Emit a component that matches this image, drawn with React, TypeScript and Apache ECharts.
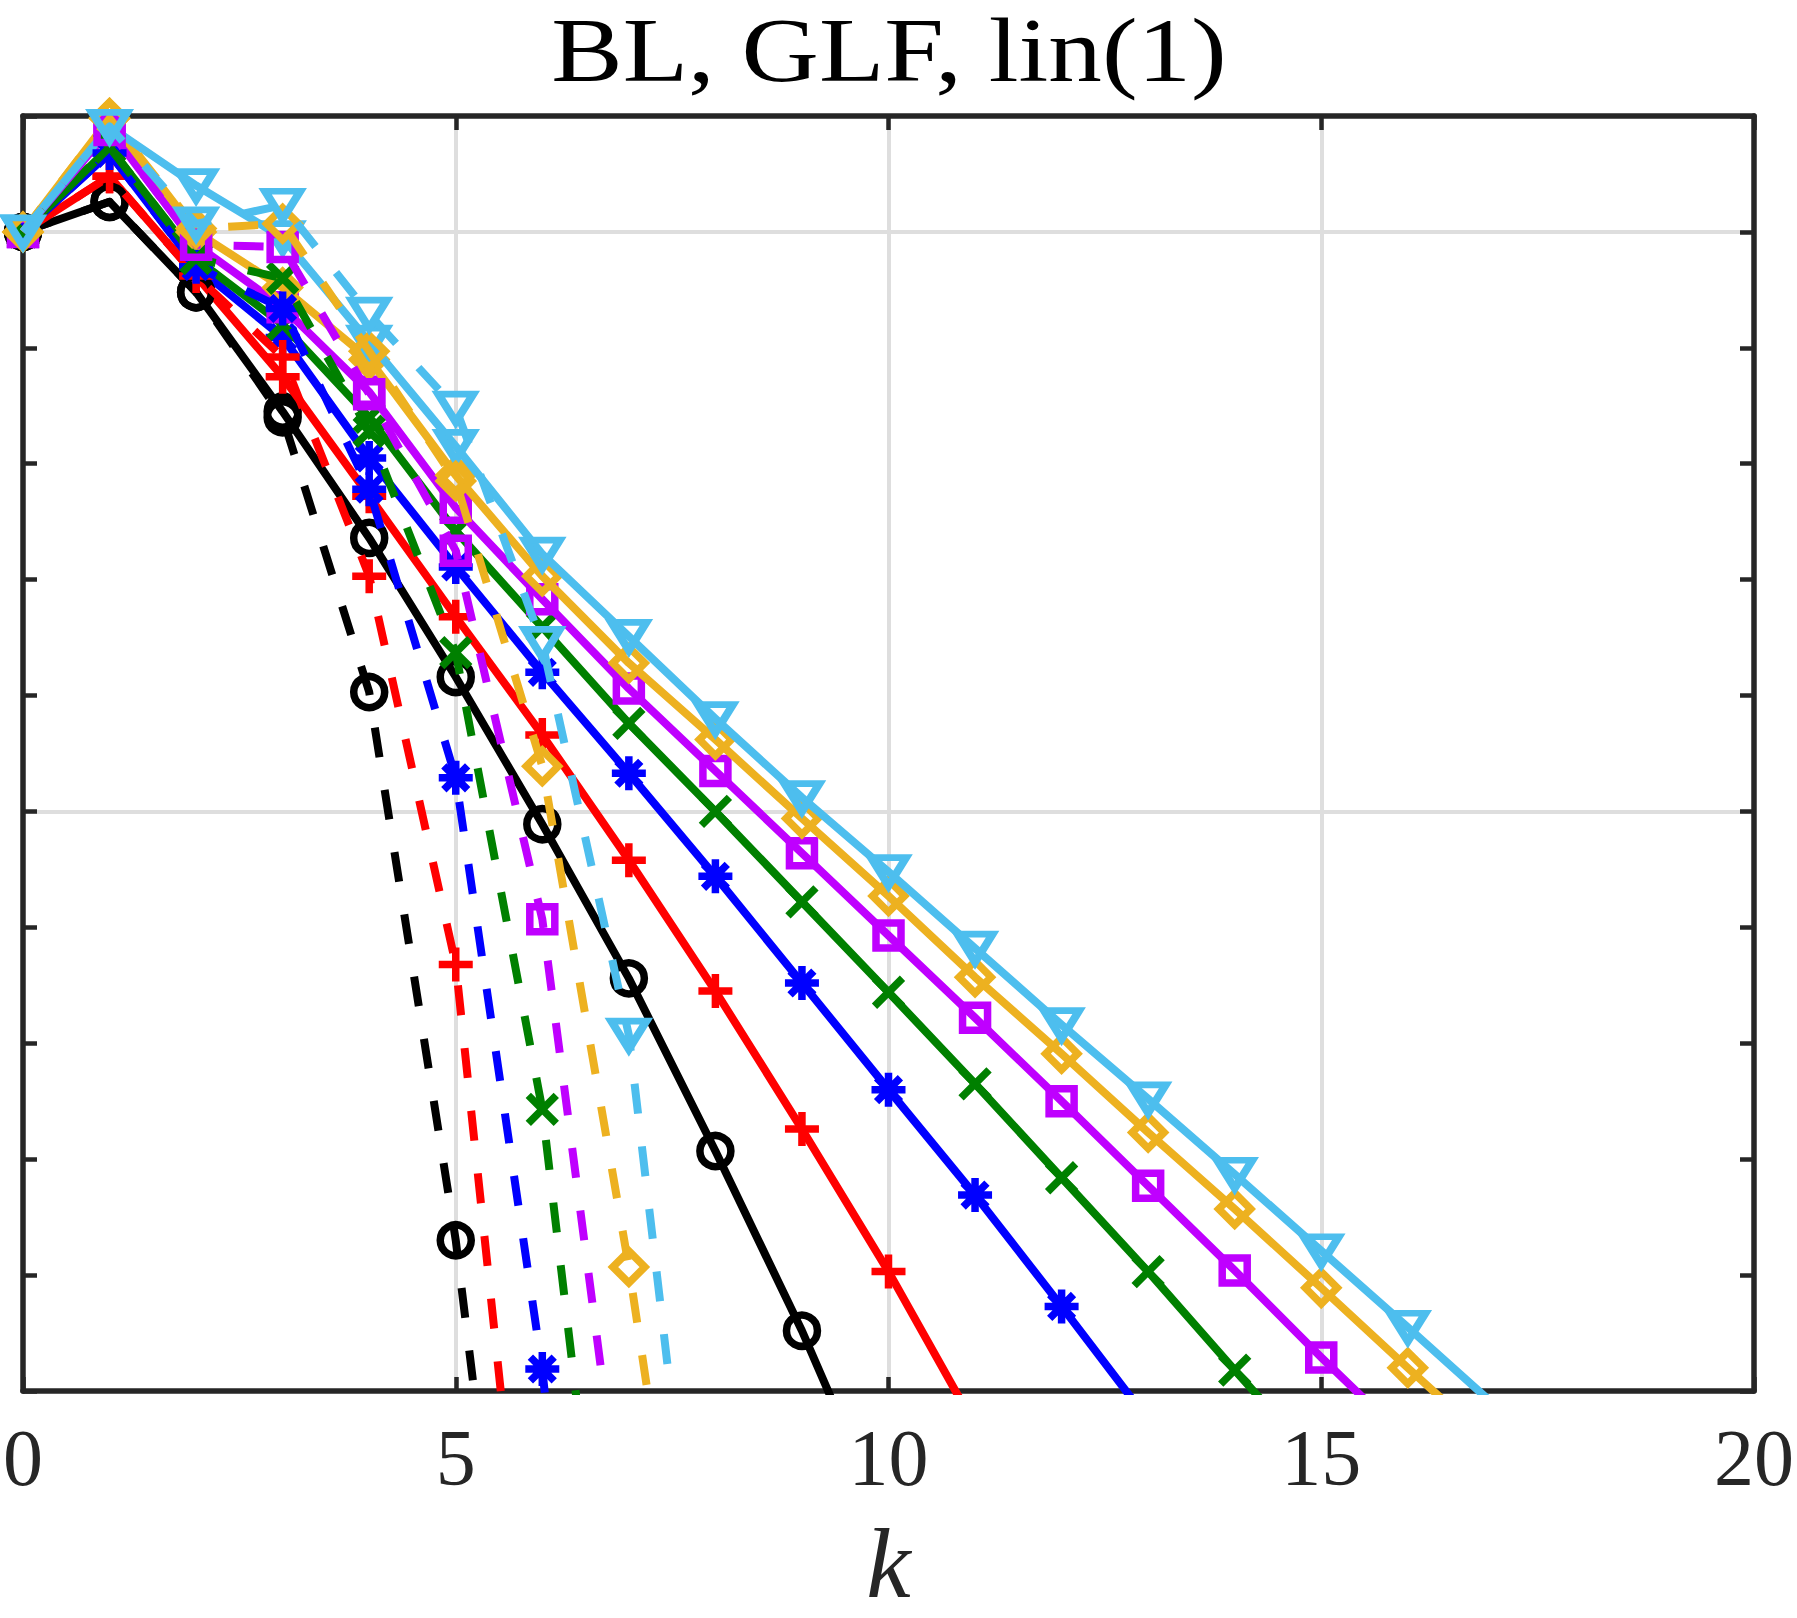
import React, { useEffect, useRef } from "react";
import * as echarts from "echarts";

// log10 of the error at iteration k (index = k)
const blackSolid = [0, 0.26, -0.52, -1.55, -2.64, -3.84, -5.11, -6.44, -7.93, -9.48, -11.2];
const redSolid = [0, 0.48, -0.38, -1.25, -2.28, -3.32, -4.34, -5.42, -6.55, -7.74, -8.97, -10.3];
const blueSolid = [0, 0.68, -0.3, -0.91, -1.95, -2.89, -3.8, -4.67, -5.56, -6.48, -7.4, -8.31, -9.27, -10.25];
const greenSolid = [0, 0.73, -0.23, -0.8, -1.6, -2.58, -3.41, -4.24, -5.0, -5.78, -6.56, -7.35, -8.16, -8.97, -9.82, -10.65];
const magentaSolid = [0, 0.88, -0.11, -0.65, -1.38, -2.38, -3.17, -3.94, -4.65, -5.36, -6.07, -6.78, -7.5, -8.23, -8.96, -9.71, -10.43];
const orangeSolid = [0, 0.98, 0.0, -0.48, -1.1, -2.1, -2.97, -3.72, -4.38, -5.06, -5.73, -6.43, -7.09, -7.77, -8.43, -9.11, -9.8, -10.48];
const cyanSolid = [0, 0.91, 0.4, -0.05, -0.95, -1.85, -2.78, -3.49, -4.2, -4.88, -5.52, -6.18, -6.84, -7.48, -8.13, -8.79, -9.45, -10.12];

const blackDashed = [0, 0.26, -0.52, -1.6, -3.97, -8.7, -14.8];
const redDashed = [0, 0.48, -0.38, -1.08, -2.97, -6.32, -13.4];
const blueDashed = [0, 0.68, -0.3, -0.66, -2.22, -4.71, -9.81, -17.0];
const greenDashed = [0, 0.73, -0.23, -0.4, -1.72, -3.63, -7.57, -13.9];
const magentaDashed = [0, 0.88, -0.11, -0.13, -1.4, -2.75, -5.93, -11.65];
const orangeDashed = [0, 0.98, 0.03, 0.07, -1.03, -2.15, -4.61, -8.93, -13.9];
const cyanDashed = [0, 0.91, 0.07, 0.23, -0.71, -1.52, -3.55, -6.93, -13.3];

const xTicks = [0, 5, 10, 15, 20];
const titleText = "BL, GLF, lin(1)";
const xName = "k";

const BLACK = "#000000";
const RED = "#ff0000";
const BLUE = "#0000ff";
const GREEN = "#008000";
const MAGENTA = "#bf00ff";
const ORANGE = "#edb120";
const CYAN = "#4dbeee";

const PLUS = "path://M0,5L10,5M5,0L5,10";
const STAR = "path://M0,5L10,5M5,0L5,10M1.5,1.5L8.5,8.5M1.5,8.5L8.5,1.5";
const CROSS = "path://M0,0L10,10M0,10L10,0";
const TRI_DOWN = "path://M0,0L10,0L5,8.3Z";

type Spec = {
  name: string;
  data: number[];
  color: string;
  symbol: string;
  size: number | number[];
  dashed: boolean;
};

const specs: Spec[] = [
  { name: "black", data: blackSolid, color: BLACK, symbol: "circle", size: 31, dashed: false },
  { name: "red", data: redSolid, color: RED, symbol: PLUS, size: 34, dashed: false },
  { name: "blue", data: blueSolid, color: BLUE, symbol: STAR, size: 34, dashed: false },
  { name: "green", data: greenSolid, color: GREEN, symbol: CROSS, size: 28, dashed: false },
  { name: "magenta", data: magentaSolid, color: MAGENTA, symbol: "rect", size: 25, dashed: false },
  { name: "orange", data: orangeSolid, color: ORANGE, symbol: "diamond", size: [32, 32], dashed: false },
  { name: "cyan", data: cyanSolid, color: CYAN, symbol: TRI_DOWN, size: [35, 28], dashed: false },
  { name: "black dashed", data: blackDashed, color: BLACK, symbol: "circle", size: 31, dashed: true },
  { name: "red dashed", data: redDashed, color: RED, symbol: PLUS, size: 34, dashed: true },
  { name: "blue dashed", data: blueDashed, color: BLUE, symbol: STAR, size: 34, dashed: true },
  { name: "green dashed", data: greenDashed, color: GREEN, symbol: CROSS, size: 28, dashed: true },
  { name: "magenta dashed", data: magentaDashed, color: MAGENTA, symbol: "rect", size: 25, dashed: true },
  { name: "orange dashed", data: orangeDashed, color: ORANGE, symbol: "diamond", size: [32, 32], dashed: true },
  { name: "cyan dashed", data: cyanDashed, color: CYAN, symbol: TRI_DOWN, size: [35, 28], dashed: true },
];

const AX = "#262626";
const GRID_C = "#dedede";
const SERIF = "Liberation Serif";

export default function App() {
  const ref = useRef<HTMLDivElement>(null);

  useEffect(() => {
    if (!ref.current) return;
    const chart = echarts.init(ref.current, undefined, { renderer: "svg" });

    const axisLine = { show: true, onZero: false, lineStyle: { color: AX, width: 5.5 } };
    const axisTick = { show: true, inside: true, length: 14, lineStyle: { color: AX, width: 4.5 } };

    const series = specs.map((s, idx) => ({
      type: "line",
      name: s.name,
      data: s.data.map((v, i) => [i, v]),
      xAxisIndex: 0,
      yAxisIndex: 0,
      symbol: s.symbol,
      symbolSize: s.size,
      showSymbol: true,
      showAllSymbol: true,
      clip: true,
      z: 2 + idx * 0.01,
      lineStyle: {
        color: s.color,
        width: 8,
        type: s.dashed ? [30, 33] : "solid",
        cap: "butt",
        join: "round",
      },
      itemStyle: { color: "transparent", borderColor: s.color, borderWidth: 7.5 },
      emphasis: { disabled: true },
      silent: true,
    }));

    chart.setOption({
      animation: false,
      backgroundColor: "#ffffff",
      grid: { left: 23, right: 36, top: 116, bottom: 211, containLabel: false },
      graphic: [
        {
          type: "text",
          x: 889,
          y: 50.5,
          scaleX: 1.19,
          style: {
            text: titleText,
            fontFamily: SERIF,
            fontSize: 90,
            lineHeight: 80,
            fill: "#000000",
            textAlign: "center",
            textVerticalAlign: "middle",
            align: "center",
            verticalAlign: "middle",
          },
        },
      ],
      xAxis: [
        {
          type: "value",
          min: xTicks[0],
          max: xTicks[xTicks.length - 1],
          interval: xTicks[1] - xTicks[0],
          position: "bottom",
          axisLine,
          axisTick,
          axisLabel: {
            show: true,
            margin: 27,
            color: AX,
            fontFamily: SERIF,
            fontSize: 80,
          },
          splitLine: {
            show: true,
            showMinLine: false,
            showMaxLine: false,
            lineStyle: { color: GRID_C, width: 4 },
          },
          name: xName,
          nameLocation: "middle",
          nameGap: 122,
          nameTextStyle: {
            fontFamily: SERIF,
            fontStyle: "italic",
            fontSize: 100,
            color: AX,
          },
        },
        {
          type: "value",
          min: xTicks[0],
          max: xTicks[xTicks.length - 1],
          interval: xTicks[1] - xTicks[0],
          position: "top",
          axisLine,
          axisTick,
          axisLabel: { show: false },
          splitLine: { show: false },
        },
      ],
      yAxis: [
        {
          type: "value",
          min: -10,
          max: 1,
          interval: 1,
          position: "left",
          axisLine,
          axisTick,
          axisLabel: { show: false },
          splitLine: { show: false },
        },
        {
          type: "value",
          min: -10,
          max: 1,
          interval: 1,
          position: "right",
          axisLine,
          axisTick,
          axisLabel: { show: false },
          splitLine: { show: false },
        },
        {
          type: "value",
          min: -10,
          max: 1,
          interval: 5,
          position: "left",
          axisLine: { show: false },
          axisTick: { show: false },
          axisLabel: { show: false },
          splitLine: {
            show: true,
            showMinLine: false,
            showMaxLine: false,
            lineStyle: { color: GRID_C, width: 4 },
          },
        },
      ],
      series,
    });

    return () => chart.dispose();
  }, []);

  return (
    <div
      ref={ref}
      style={{ position: "absolute", left: 0, top: 0, width: 1797, height: 1618, background: "#fff" }}
    />
  );
}
